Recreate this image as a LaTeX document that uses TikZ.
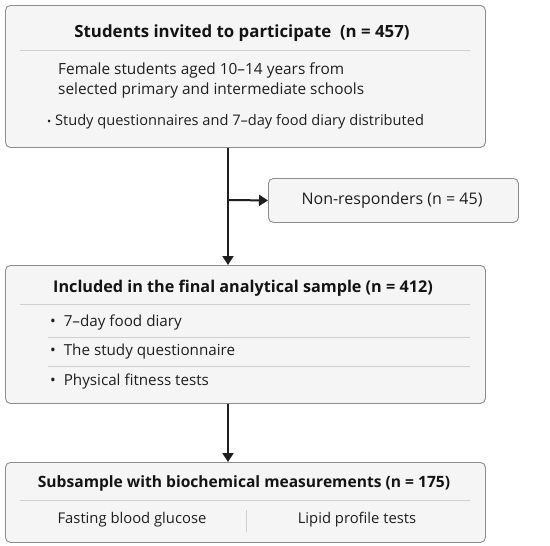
\documentclass[tikz,border=0pt]{standalone}
\usepackage{fontspec}
\setmainfont{Open Sans}
\usetikzlibrary{arrows.meta}
\definecolor{boxfill}{HTML}{F5F5F5}
\definecolor{boxline}{HTML}{8C8C8C}
\definecolor{sepline}{HTML}{CFCFCF}
\tikzset{
  panel/.style={draw=boxline, fill=boxfill, rounded corners=5pt, line width=0.9pt},
  sep/.style={draw=sepline, line width=0.8pt},
  ttl/.style={text=black!92, inner sep=0pt},
  txt/.style={text=black!88, inner sep=0pt, anchor=west},
  ctr/.style={text=black!88, inner sep=0pt},
  flow/.style={draw=black!88, line width=2pt, -{Triangle[length=9pt,width=11pt]}},
}
\newcommand{\fs}[1]{\fontsize{#1}{#1}\selectfont}
\begin{document}
\begin{tikzpicture}[x=1pt,y=-1pt]
\useasboundingbox (0,0) rectangle (550,546);
% box 1
\node[panel, minimum width=480pt, minimum height=142pt, anchor=north west, inner sep=0pt] (b1) at (5,5) {};
\node[ttl, font=\fs{16.8}\bfseries] (t1) at (242,33) {Students invited to participate\ \ (n = 457)};
\draw[sep] (20,50) -- (470,50);
\node[txt, font=\fs{15.4}] (l1a) at (58,70) {Female students aged 10–14 years from};
\node[txt, font=\fs{15.4}] (l1b) at (58,90) {selected primary and intermediate schools};
\node[txt, font=\fs{14.6}] (l1c) at (47,122) {{\fs{11}•}\ Study questionnaires and 7–day food diary distributed};
% non-responders
\node[panel, minimum width=250pt, minimum height=44pt, anchor=north west, inner sep=0pt] (nr) at (268,178) {};
\node[ctr, font=\fs{16}] (nrt) at (392,200) {Non-responders (n = 45)};
% box 2
\node[panel, minimum width=480pt, minimum height=138pt, anchor=north west, inner sep=0pt] (b2) at (5,265) {};
\node[ttl, font=\fs{16.2}\bfseries] (t2) at (243,288) {Included in the final analytical sample (n = 412)};
\draw[sep] (20,304) -- (470,304);
\node[txt, font=\fs{15.2}] (l2a) at (50,323) {•\ \ 7–day food diary};
\draw[sep] (48,337) -- (470,337);
\node[txt, font=\fs{15.2}] (l2b) at (50,352) {•\ \ The study questionnaire};
\draw[sep] (48,366) -- (470,366);
\node[txt, font=\fs{15.2}] (l2c) at (50,382) {•\ \ Physical fitness tests};
% box 3
\node[panel, minimum width=480pt, minimum height=80pt, anchor=north west, inner sep=0pt] (b3) at (5,462) {};
\node[ttl, font=\fs{15.6}\bfseries] (t3) at (244,483) {Subsample with biochemical measurements (n = 175)};
\draw[sep] (20,500) -- (470,500);
\node[ctr, font=\fs{14.8}] (l3a) at (132,520) {Fasting blood glucose};
\node[ctr, font=\fs{14.8}] (l3b) at (357,520) {Lipid profile tests};
\draw[sep] (246,510) -- (246,532);
% connectors
\coordinate (j) at (228,200);
\draw[flow] (b1.south -| j) -- (b2.north -| j);
\draw[flow] (j) -- (nr.west);
\draw[flow] (b2.south -| j) -- (b3.north -| j);
\end{tikzpicture}
\end{document}
